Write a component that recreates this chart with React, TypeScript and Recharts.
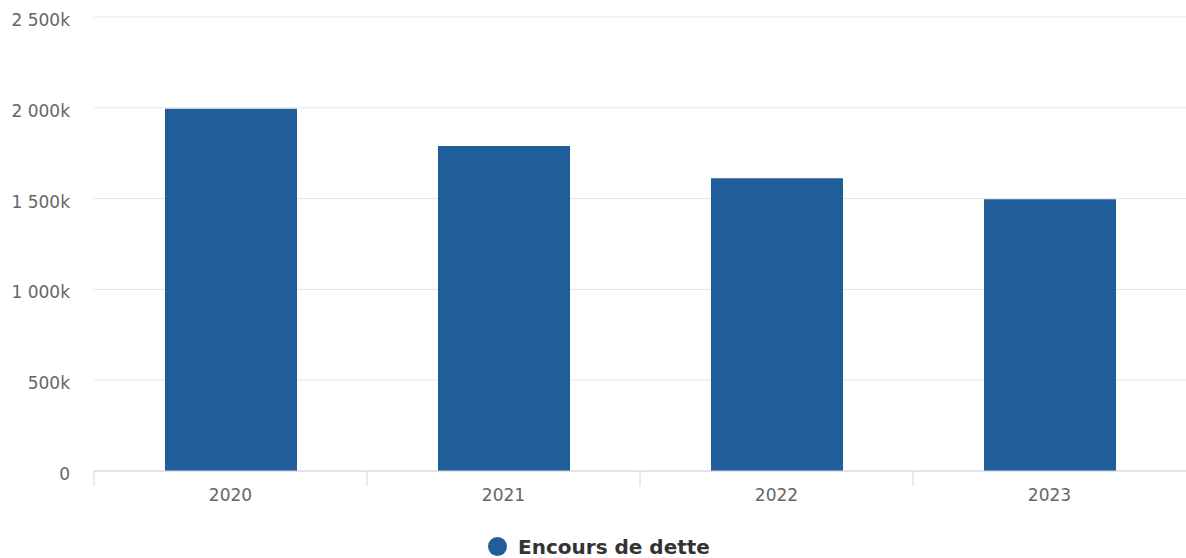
import { BarChart, Bar, XAxis, YAxis, CartesianGrid, Legend } from "recharts"

const YEARS = ["2020", "2021", "2022", "2023"]
const ENCOURS = [1995000, 1790000, 1612000, 1497000]
const Y_TICKS = [0, 500000, 1000000, 1500000, 2000000, 2500000]
const SERIES_NAME = "Encours de dette"

const BAR_COLOR = "#1f5e99"
const AXIS_COLOR = "#ccd6eb"
const FONT = "'DejaVu Sans', sans-serif"

const data = YEARS.map((year, i) => ({ year, value: ENCOURS[i] }))

function formatK(v: number) {
  if (v === 0) return "0"
  const k = String(Math.round(v / 1000)).replace(/\B(?=(\d{3})+(?!\d))/g, " ")
  return `${k}k`
}

// category label + tick mark on the left band edge (offset = half band from the scale)
function YearTick(props: any) {
  const { x, y, payload } = props
  const half = payload.offset || 0
  return (
    <g>
      <line x1={x - half} x2={x - half} y1={y} y2={y + 15} stroke={AXIS_COLOR} />
      <text x={x} y={y + 18} dy="0.71em" textAnchor="middle" fill="#666666" fontSize={17} fontFamily={FONT}>
        {payload.value}
      </text>
    </g>
  )
}

function LegendContent() {
  return (
    <div
      style={{
        height: 47,
        boxSizing: "border-box",
        paddingTop: 24,
        display: "flex",
        justifyContent: "center",
        alignItems: "center",
        lineHeight: "22px",
        fontFamily: FONT,
        fontWeight: "bold",
        fontSize: 20,
        color: "#333333",
        paddingLeft: 12,
      }}
    >
      <span
        style={{
          display: "inline-block",
          width: 19,
          height: 19,
          borderRadius: "50%",
          background: BAR_COLOR,
          marginRight: 11,
        }}
      />
      {SERIES_NAME}
    </div>
  )
}

export default function App() {
  return (
    <div style={{ position: "absolute", left: 0, top: 0, background: "#fff" }}>
      <BarChart width={1186} height={558} data={data} margin={{ top: 17, right: 0, left: 0, bottom: 0 }}>
        <CartesianGrid horizontal vertical={false} stroke="#e6e6e6" />
        <XAxis
          dataKey="year"
          height={40}
          axisLine={{ stroke: AXIS_COLOR }}
          tickLine={false}
          tickSize={0}
          tickMargin={0}
          tick={<YearTick />}
          interval={0}
        />
        <YAxis
          width={94}
          domain={[0, 2500000]}
          ticks={Y_TICKS}
          tickFormatter={formatK}
          axisLine={false}
          tickLine={false}
          tickSize={0}
          tickMargin={24}
          tick={{ fill: "#666666", fontSize: 17, fontFamily: FONT, dy: 3 }}
        />
        <Legend verticalAlign="bottom" content={<LegendContent />} />
        <Bar dataKey="value" name={SERIES_NAME} fill={BAR_COLOR} barSize={132} isAnimationActive={false} />
      </BarChart>
    </div>
  )
}
